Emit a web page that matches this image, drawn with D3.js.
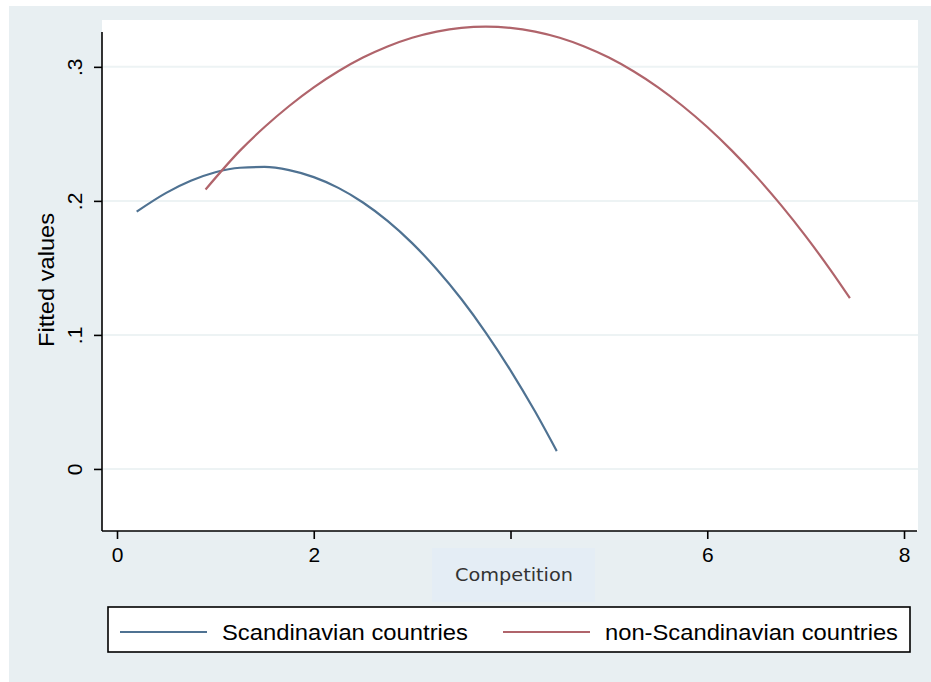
<!DOCTYPE html>
<html>
<head>
<meta charset="utf-8">
<script src="https://cdn.jsdelivr.net/npm/d3@7"></script>
<style>
  html, body { margin: 0; padding: 0; background: #ffffff; }
  svg { display: block; }
  text { font-family: "Liberation Sans", Arial, sans-serif; }
</style>
</head>
<body>
<svg id="chart" width="931" height="682"></svg>
<script>
// ---- data ----
const scandX = [0.2, 0.5, 0.75, 1.0, 1.25, 1.5, 1.75, 2.0, 2.25, 2.5, 2.75, 3.0, 3.25, 3.5, 3.75, 4.0, 4.25, 4.47];
const scandY = [0.192, 0.206, 0.215, 0.2214, 0.2247, 0.2253, 0.2229, 0.2177, 0.2097, 0.1988, 0.1851, 0.1685, 0.149, 0.1268, 0.1016, 0.0736, 0.0428, 0.0133];
const nonScandX = [0.9, 1.25, 1.5, 1.75, 2.0, 2.25, 2.5, 2.75, 3.0, 3.25, 3.5, 3.75, 4.0, 4.25, 4.5, 4.75, 5.0, 5.25, 5.5, 5.75, 6.0, 6.25, 6.5, 6.75, 7.0, 7.25, 7.45];
const nonScandY = [0.2085, 0.2375, 0.2551, 0.2708, 0.2847, 0.2967, 0.3069, 0.3152, 0.3217, 0.3263, 0.3291, 0.33, 0.3291, 0.3263, 0.3217, 0.3152, 0.3069, 0.2967, 0.2847, 0.2708, 0.2551, 0.2375, 0.2181, 0.1968, 0.1737, 0.1487, 0.1274];
const seriesNames = ["Scandinavian countries", "non-Scandinavian countries"];
const xTickValues = [0, 2, 4, 6, 8];
const xTickLabels = ["0", "2", "4", "6", "8"];
const yTickValues = [0, 0.1, 0.2, 0.3];
const yTickLabels = ["0", ".1", ".2", ".3"];
const xTitle = "Competition";
const yTitle = "Fitted values";

// ---- styles ----
const bgColor = "#e8eff2";
const gridColor = "#edf3f4";
const colors = ["#4f7292", "#b0646b"];

const svg = d3.select("#chart");

// outer graph region
svg.append("rect").attr("x", 9).attr("y", 6).attr("width", 922).attr("height", 676).attr("fill", bgColor);

// scales
const x = d3.scaleLinear().domain([-0.1525, 8.132]).range([102, 917]);
const y = d3.scaleLinear().domain([-0.0463, 0.326]).range([531, 32]);

// plot region
svg.append("rect").attr("x", 102).attr("y", 20).attr("width", 816).attr("height", 511).attr("fill", "#ffffff");

// gridlines
svg.append("g").selectAll("line").data(yTickValues).join("line")
  .attr("x1", 103).attr("x2", 918)
  .attr("y1", d => y(d)).attr("y2", d => y(d))
  .attr("stroke", gridColor).attr("stroke-width", 2);

// lines
const line = d3.line().x(d => x(d[0])).y(d => y(d[1])).curve(d3.curveMonotoneX);
const sData = [d3.zip(scandX, scandY), d3.zip(nonScandX, nonScandY)];
svg.append("g").selectAll("path").data(sData).join("path")
  .attr("d", line).attr("fill", "none")
  .attr("stroke", (d, i) => colors[i]).attr("stroke-width", 2.2);

// y axis
const yAxis = d3.axisLeft(y).tickValues(yTickValues).tickSize(8).tickPadding(6)
  .tickFormat((d, i) => yTickLabels[i]);
const gy = svg.append("g").attr("transform", "translate(102,0)").call(yAxis);
gy.select(".domain").attr("stroke", "#000").attr("stroke-width", 1.6).attr("d", `M0,${y.range()[1]}V${y.range()[0]}`);
gy.selectAll(".tick line").attr("stroke", "#000").attr("stroke-width", 1.6);
gy.selectAll(".tick text")
  .attr("font-size", 21).attr("fill", "#000")
  .attr("text-anchor", "middle").attr("x", 0).attr("dy", 0)
  .attr("transform", "translate(-26,0) rotate(-90)")
  .attr("dominant-baseline", "middle");

// x axis
const xAxis = d3.axisBottom(x).tickValues(xTickValues).tickSize(8).tickPadding(8)
  .tickFormat((d, i) => xTickLabels[i]);
const gx = svg.append("g").attr("transform", "translate(0,531)").call(xAxis);
gx.select(".domain").attr("stroke", "#000").attr("stroke-width", 1.6).attr("d", `M${x.range()[0]},0H${x.range()[1]}`);
gx.selectAll(".tick line").attr("stroke", "#000").attr("stroke-width", 1.6);
gx.selectAll(".tick text").attr("font-size", 21).attr("fill", "#000").attr("y", 16).attr("dy", "0.71em");

// x title box (covers the middle label as in the reference)
svg.append("rect").attr("x", 432).attr("y", 548).attr("width", 163).attr("height", 54).attr("fill", "#e4edf5");
svg.append("text").attr("x", 514).attr("y", 581).attr("text-anchor", "middle")
  .attr("font-size", 18).attr("fill", "#333").style("font-family", "'DejaVu Sans', sans-serif")
  .attr("textLength", 118).attr("lengthAdjust", "spacingAndGlyphs")
  .text(xTitle);

// y title
svg.append("text").attr("transform", "translate(54,280) rotate(-90)").attr("text-anchor", "middle")
  .attr("font-size", 22).attr("fill", "#000")
  .attr("textLength", 134).attr("lengthAdjust", "spacingAndGlyphs")
  .text(yTitle);

// legend
const lg = svg.append("g");
lg.append("rect").attr("x", 108).attr("y", 607).attr("width", 802).attr("height", 45)
  .attr("fill", "#fff").attr("stroke", "#000").attr("stroke-width", 1.6);
const legX = [120, 503];
const legTextLen = [246, 293];
seriesNames.forEach((name, i) => {
  lg.append("line").attr("x1", legX[i]).attr("x2", legX[i] + 87).attr("y1", 632).attr("y2", 632)
    .attr("stroke", colors[i]).attr("stroke-width", 2.2);
  lg.append("text").attr("x", legX[i] + 102).attr("y", 640).attr("font-size", 22).attr("fill", "#000")
    .attr("textLength", legTextLen[i]).attr("lengthAdjust", "spacingAndGlyphs")
    .text(name);
});
</script>
</body>
</html>
